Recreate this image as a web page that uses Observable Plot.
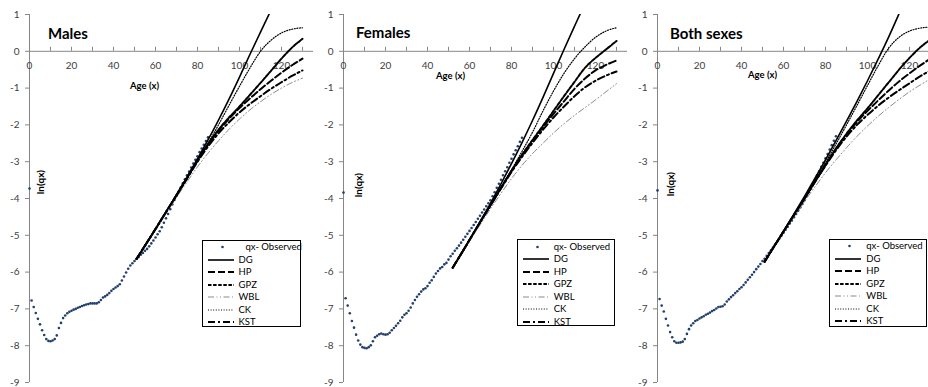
<!DOCTYPE html>
<html>
<head>
<meta charset="utf-8">
<script src="https://cdn.jsdelivr.net/npm/d3@7"></script>
<script src="https://cdn.jsdelivr.net/npm/@observablehq/plot@0.6"></script>
<style>
html,body{margin:0;padding:0;background:#fff;}
#wrap{position:relative;width:928px;height:387px;overflow:hidden;font-family:Lato,"Open Sans",sans-serif;color:#000;}
.panel{position:absolute;top:0;height:387px;overflow:hidden;}
.panel svg{max-width:none !important;display:block;}
.lbl{position:absolute;white-space:nowrap;line-height:1;transform:translate(0,-50%);}
.title{font-weight:bold;font-size:15px;color:#000;}
.xt{font-weight:bold;font-size:9.5px;color:#000;}
.yt{position:absolute;white-space:nowrap;line-height:1;font-weight:bold;font-size:10px;transform:translate(-50%,-50%) rotate(-90deg);}
.legend{position:absolute;border:1px solid #000;background:#fff;box-sizing:border-box;font-size:9.5px;}
.row{position:absolute;left:0;right:0;height:12px;}
.row svg{position:absolute;top:0;}
.row span{position:absolute;top:0;line-height:12px;white-space:nowrap;color:#000;}
</style>
</head>
<body>
<div id="wrap"></div>
<script>
// ---------- data ----------
const obsAges = d3.range(0, 86);
const xMinorTicks = [10,20,30,40,50,60,70,80,90,100,110,120,130,140];
const xTickLabels = [0,20,40,60,80,100,120];
const yTicks = [-9,-8,-7,-6,-5,-4,-3,-2,-1,0,1];
const seriesNames = ["DG","HP","GPZ","WBL","CK","KST"];
const panelTitles = ["Males","Females","Both sexes"];
const obsLabel = "qx- Observed";

const maleObs = [-3.73,-6.77,-6.95,-7.11,-7.27,-7.42,-7.58,-7.71,-7.82,-7.87,-7.88,-7.86,-7.82,-7.72,-7.52,-7.38,-7.25,-7.18,-7.12,-7.08,
  -7.05,-7.02,-7.00,-6.97,-6.95,-6.92,-6.90,-6.88,-6.87,-6.85,-6.85,-6.85,-6.85,-6.82,-6.76,-6.69,-6.66,-6.62,-6.57,-6.51,
  -6.46,-6.42,-6.38,-6.33,-6.23,-6.12,-6.01,-5.91,-5.82,-5.76,-5.70,-5.64,-5.59,-5.53,-5.48,-5.42,-5.37,-5.30,-5.22,-5.14,
  -5.06,-4.97,-4.89,-4.78,-4.66,-4.54,-4.42,-4.29,-4.16,-4.04,-3.92,-3.81,-3.70,-3.59,-3.48,-3.37,-3.27,-3.16,-3.05,-2.95,
  -2.85,-2.74,-2.64,-2.54,-2.44,-2.34];
const femaleObs = [-3.84,-6.71,-6.91,-7.12,-7.33,-7.51,-7.70,-7.86,-7.97,-8.04,-8.06,-8.07,-8.04,-7.99,-7.88,-7.77,-7.73,-7.69,-7.67,-7.69,
  -7.70,-7.69,-7.65,-7.58,-7.52,-7.46,-7.39,-7.32,-7.23,-7.16,-7.12,-7.05,-6.96,-6.85,-6.76,-6.67,-6.60,-6.53,-6.47,-6.44,
  -6.38,-6.29,-6.22,-6.13,-6.04,-5.97,-5.90,-5.86,-5.79,-5.75,-5.66,-5.57,-5.50,-5.42,-5.35,-5.28,-5.20,-5.12,-5.04,-4.96,
  -4.88,-4.80,-4.72,-4.64,-4.55,-4.47,-4.38,-4.30,-4.21,-4.13,-4.05,-3.94,-3.83,-3.71,-3.60,-3.49,-3.37,-3.26,-3.15,-3.03,
  -2.92,-2.80,-2.69,-2.58,-2.46,-2.35];
const bothObs = [-3.78,-6.73,-6.91,-7.07,-7.27,-7.45,-7.63,-7.77,-7.88,-7.92,-7.92,-7.91,-7.89,-7.82,-7.68,-7.55,-7.45,-7.39,-7.33,-7.30,
  -7.26,-7.23,-7.20,-7.16,-7.13,-7.10,-7.06,-7.03,-6.99,-6.95,-6.94,-6.93,-6.88,-6.80,-6.74,-6.68,-6.63,-6.57,-6.52,-6.46,
  -6.41,-6.35,-6.28,-6.21,-6.14,-6.07,-6.00,-5.92,-5.85,-5.78,-5.70,-5.64,-5.56,-5.48,-5.41,-5.33,-5.25,-5.17,-5.09,-5.01,
  -4.93,-4.85,-4.77,-4.68,-4.60,-4.51,-4.42,-4.33,-4.24,-4.15,-4.05,-3.94,-3.83,-3.72,-3.60,-3.49,-3.37,-3.26,-3.14,-3.03,
  -2.91,-2.79,-2.67,-2.55,-2.43,-2.31];

const maleModelAges   = [51,55,60,65,70,75,80,85,90,95,100,105,110,115,120,125,130];
const femaleModelAges = [52,55,60,65,70,75,80,85,90,95,100,105,110,115,120,125,130];
const bothModelAges   = [51,55,60,65,70,75,80,85,90,95,100,105,110,115,120,125,130];

const maleDG  = [-5.64,-5.28,-4.83,-4.37,-3.90,-3.42,-2.92,-2.41,-1.87,-1.30,-0.70,-0.08,0.52,1.12,null,null,null];
const maleHP  = [-5.64,-5.28,-4.83,-4.37,-3.91,-3.44,-2.97,-2.54,-2.16,-1.83,-1.54,-1.28,-1.03,-0.80,-0.58,-0.38,-0.20];
const maleGPZ = [-5.64,-5.28,-4.83,-4.37,-3.91,-3.44,-2.96,-2.52,-2.13,-1.80,-1.50,-1.18,-0.86,-0.53,-0.20,0.10,0.34];
const maleWBL = [-5.64,-5.28,-4.85,-4.41,-3.97,-3.55,-3.14,-2.77,-2.43,-2.12,-1.84,-1.59,-1.37,-1.17,-1.00,-0.85,-0.73];
const maleCK  = [-5.64,-5.28,-4.84,-4.38,-3.93,-3.46,-2.98,-2.50,-2.00,-1.47,-0.95,-0.45,0.00,0.30,0.50,0.60,0.64];
const maleKST = [-5.64,-5.28,-4.83,-4.37,-3.92,-3.46,-3.00,-2.59,-2.23,-1.93,-1.66,-1.43,-1.22,-1.02,-0.84,-0.67,-0.52];

const femaleDG  = [-5.88,-5.60,-5.12,-4.63,-4.13,-3.60,-3.05,-2.48,-1.88,-1.25,-0.60,0.05,0.68,1.30,null,null,null];
const femaleHP  = [-5.88,-5.60,-5.13,-4.65,-4.18,-3.71,-3.25,-2.83,-2.44,-2.06,-1.70,-1.36,-1.02,-0.74,-0.52,-0.37,-0.25];
const femaleGPZ = [-5.88,-5.60,-5.13,-4.65,-4.18,-3.71,-3.25,-2.81,-2.41,-2.02,-1.62,-1.22,-0.83,-0.45,-0.18,0.05,0.28];
const femaleWBL = [-5.88,-5.61,-5.16,-4.72,-4.28,-3.86,-3.46,-3.10,-2.78,-2.50,-2.22,-1.97,-1.74,-1.53,-1.32,-1.10,-0.88];
const femaleCK  = [-5.88,-5.60,-5.13,-4.66,-4.19,-3.71,-3.22,-2.72,-2.20,-1.62,-1.08,-0.60,-0.20,0.12,0.38,0.55,0.64];
const femaleKST = [-5.88,-5.60,-5.13,-4.65,-4.19,-3.73,-3.28,-2.87,-2.49,-2.13,-1.80,-1.50,-1.22,-0.98,-0.80,-0.66,-0.55];

const bothDG  = [-5.72,-5.35,-4.89,-4.42,-3.94,-3.45,-2.95,-2.43,-1.90,-1.36,-0.80,-0.22,0.38,1.02,null,null,null];
const bothHP  = [-5.72,-5.35,-4.90,-4.45,-4.00,-3.54,-3.09,-2.65,-2.26,-1.92,-1.62,-1.34,-1.07,-0.82,-0.60,-0.39,-0.20];
const bothGPZ = [-5.72,-5.35,-4.90,-4.45,-4.00,-3.54,-3.08,-2.64,-2.24,-1.88,-1.55,-1.20,-0.85,-0.50,-0.18,0.10,0.32];
const bothWBL = [-5.72,-5.36,-4.93,-4.50,-4.08,-3.68,-3.30,-2.95,-2.62,-2.31,-2.03,-1.77,-1.53,-1.31,-1.10,-0.92,-0.75];
const bothCK  = [-5.72,-5.35,-4.90,-4.44,-3.98,-3.50,-3.02,-2.52,-2.00,-1.47,-0.93,-0.40,0.08,0.38,0.55,0.63,0.66];
const bothKST = [-5.72,-5.35,-4.90,-4.45,-4.00,-3.55,-3.11,-2.69,-2.32,-2.00,-1.73,-1.48,-1.26,-1.06,-0.87,-0.68,-0.52];

// ---------- styles ----------
const axisGray = "#868686";
const textGray = "#404040";
const dotColor = "#233f6d";
const lineStyle = {
  DG:  {stroke:"#000", strokeWidth:1.6},
  HP:  {stroke:"#000", strokeWidth:2, strokeDasharray:"7,3"},
  GPZ: {stroke:"#000", strokeWidth:2, strokeDasharray:"3.5,1.6"},
  WBL: {stroke:"#8a8a8a", strokeWidth:1, strokeDasharray:"6,2.5,1,2.5,1,2.5"},
  CK:  {stroke:"#000", strokeWidth:1.2, strokeDasharray:"1,1.6"},
  KST: {stroke:"#000", strokeWidth:2, strokeDasharray:"7,3,2,3"}
};

const panels = [
  {title: panelTitles[0], obs: maleObs, modelAges: maleModelAges,
   models: {DG: maleDG, HP: maleHP, GPZ: maleGPZ, WBL: maleWBL, CK: maleCK, KST: maleKST},
   left: 0, width: 313, marginLeft: 29,
   titlePos: [48, 32.5], xtPos: [130, 86], ytPos: [40, 182],
   legend: {left: 201.5, top: 239.5, width: 99, height: 87, obsText: 43}},
  {title: panelTitles[1], obs: femaleObs, modelAges: femaleModelAges,
   models: {DG: femaleDG, HP: femaleHP, GPZ: femaleGPZ, WBL: femaleWBL, CK: femaleCK, KST: femaleKST},
   left: 313, width: 314, marginLeft: 30,
   titlePos: [356, 32], xtPos: [436, 75.5], ytPos: [358, 185],
   legend: {left: 516.7, top: 239.3, width: 98.5, height: 86.5, obsText: 36}},
  {title: panelTitles[2], obs: bothObs, modelAges: bothModelAges,
   models: {DG: bothDG, HP: bothHP, GPZ: bothGPZ, WBL: bothWBL, CK: bothCK, KST: bothKST},
   left: 627, width: 301, marginLeft: 30,
   titlePos: [670, 33], xtPos: [748, 74.5], ytPos: [670, 184],
   legend: {left: 829.3, top: 238.7, width: 98, height: 88, obsText: 36}}
];

const wrap = document.getElementById("wrap");

function el(tag, cls, text) {
  const e = document.createElement(tag);
  if (cls) e.className = cls;
  if (text != null) e.textContent = text;
  return e;
}

for (const p of panels) {
  const obsRows = p.obs.map((v, i) => ({age: obsAges[i], v}));
  const lineMarks = seriesNames.map(name => {
    const rows = p.models[name].map((v, i) => ({age: p.modelAges[i], v})).filter(d => d.v != null);
    return Plot.line(rows, {x: "age", y: "v", curve: "monotone-x", clip: true, fill: "none", ...lineStyle[name]});
  });
  const plotWidth = p.marginLeft + 294;
  const chart = Plot.plot({
    width: plotWidth,
    height: 387,
    marginTop: 14,
    marginBottom: 5,
    marginLeft: p.marginLeft,
    marginRight: 0,
    x: {domain: [0, 140], axis: null},
    y: {domain: [-9, 1], axis: null},
    style: {fontFamily: "Lato, 'Open Sans', sans-serif", fontSize: "10px", color: textGray, background: "#fff", maxWidth: "none"},
    marks: [
      Plot.ruleY([0], {stroke: axisGray, strokeWidth: 1}),
      Plot.ruleX(xMinorTicks, {x: d => d, y1: 0, y2: 0, insetTop: -4, stroke: axisGray}),
      Plot.ruleX([0], {stroke: axisGray, strokeWidth: 1}),
      Plot.axisY({ticks: yTicks, tickSize: 4, tickPadding: 6, tickFormat: d => String(d), stroke: axisGray, fill: textGray, fontSize: 10, label: null}),
      Plot.text(xTickLabels, {x: d => d, y: 0, dy: 14, text: d => String(d), fill: textGray, fontSize: 10}),
      Plot.dot(obsRows, {x: "age", y: "v", r: 1.3, fill: dotColor, stroke: "none"}),
      ...lineMarks
    ]
  });
  const div = el("div", "panel");
  div.style.left = p.left + "px";
  div.style.width = p.width + "px";
  div.appendChild(chart);
  wrap.appendChild(div);

  const t = el("div", "lbl title", p.title);
  t.style.left = p.titlePos[0] + "px"; t.style.top = p.titlePos[1] + "px";
  wrap.appendChild(t);

  const xt = el("div", "lbl xt", "Age (x)");
  xt.style.left = p.xtPos[0] + "px"; xt.style.top = p.xtPos[1] + "px";
  wrap.appendChild(xt);

  const yt = el("div", "yt", "ln(qx)");
  yt.style.left = p.ytPos[0] + "px"; yt.style.top = p.ytPos[1] + "px";
  wrap.appendChild(yt);

  // legend
  const lg = el("div", "legend");
  Object.assign(lg.style, {left: p.legend.left + "px", top: p.legend.top + "px", width: p.legend.width + "px", height: p.legend.height + "px"});
  const labels = [obsLabel, ...seriesNames];
  labels.forEach((lab, i) => {
    const row = el("div", "row");
    row.style.top = (0.5 + i * 12.5) + "px";
    const ns = "http://www.w3.org/2000/svg";
    const svg = document.createElementNS(ns, "svg");
    svg.setAttribute("width", 28); svg.setAttribute("height", 12);
    svg.style.left = "5px";
    if (i === 0) {
      const c = document.createElementNS(ns, "circle");
      c.setAttribute("cx", 14.5); c.setAttribute("cy", 6); c.setAttribute("r", 1.3);
      c.setAttribute("fill", dotColor);
      svg.appendChild(c);
    } else {
      const s = lineStyle[lab];
      const l = document.createElementNS(ns, "line");
      l.setAttribute("x1", 0); l.setAttribute("x2", 26); l.setAttribute("y1", 6); l.setAttribute("y2", 6);
      l.setAttribute("stroke", s.stroke); l.setAttribute("stroke-width", s.strokeWidth);
      if (s.strokeDasharray) l.setAttribute("stroke-dasharray", s.strokeDasharray);
      svg.appendChild(l);
    }
    row.appendChild(svg);
    const sp = el("span", null, lab);
    sp.style.left = (i === 0 ? p.legend.obsText : 36) + "px";
    row.appendChild(sp);
    lg.appendChild(row);
  });
  wrap.appendChild(lg);
}
</script>
</body>
</html>
